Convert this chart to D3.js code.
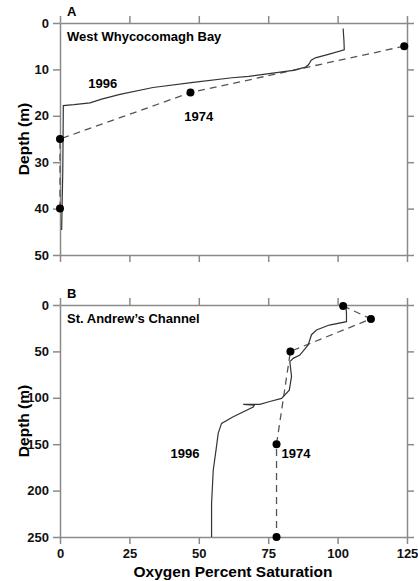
<!DOCTYPE html>
<html>
<head>
<meta charset="utf-8">
<script src="https://cdn.jsdelivr.net/npm/d3@7"></script>
<style>
  body { margin: 0; background: #fff; }
  text { font-family: "Liberation Sans", Arial, Helvetica, sans-serif; font-weight: bold; }
</style>
</head>
<body>
<div id="chart"></div>
<script>
// Data - panel A (West Whycocomagh Bay)
var oxyA1996 = [102, 102.3, 102.4, 97, 92, 90.5, 89.5, 88.5, 84, 78, 68, 62, 48, 33.5, 21.6, 15, 10.8, 5, 1.2, 1.1, 1.0, 0.8, 0.6];
var depthA1996 = [1.2, 4, 5.8, 6.7, 7.5, 8, 9, 9.5, 10.2, 10.7, 11.5, 11.8, 12.8, 13.9, 15.4, 16.4, 17.2, 17.6, 17.8, 25, 32, 38, 44.6];
var oxyA1974 = [124, 47, 0, 0];
var depthA1974 = [5, 15, 25, 40];

// Data - panel B (St. Andrew's Channel)
var oxyB1996 = [103, 103.2, 103.2, 97, 92.4, 90.6, 89.4, 86.4, 84, 82.8, 83.4, 82.6, 79.8, 75.6, 72, 66, 70, 69.6, 62.4, 58.2, 57, 56.2, 55.2, 54.6, 54.6];
var depthB1996 = [0, 10, 18, 21.6, 27, 32, 43, 54, 57.5, 61, 77, 91.7, 100.6, 104, 107, 107, 108, 110, 120.5, 127.6, 138, 156.4, 178, 214, 250];
var oxyB1974 = [102, 112, 83, 78, 78];
var depthB1974 = [1, 15, 50, 150, 250];

// Tick values
var oxyTicks = [0, 25, 50, 75, 100, 125];
var depthTicksA = [0, 10, 20, 30, 40, 50];
var depthTicksB = [0, 50, 100, 150, 200, 250];

var width = 418;
var height = 581;

var svg = d3.select("#chart")
  .append("svg")
  .attr("width", width)
  .attr("height", height);

// shared x scale
var x = d3.scaleLinear().domain([0, 125]).range([60, 407]);

var tickLen = 7;
var axisColor = "#8a8a8a";

function drawPanel(opt) {
  var y = d3.scaleLinear().domain(opt.yDomain).range(opt.yRange);
  var g = svg.append("g");

  // box axes with outward ticks on all four sides
  var left = g.append("g")
    .attr("transform", "translate(" + x(0) + ",0)")
    .call(d3.axisLeft(y).tickValues(opt.yTicks).tickSize(tickLen).tickSizeOuter(0).tickPadding(4));
  g.append("g")
    .attr("transform", "translate(" + x(125) + ",0)")
    .call(d3.axisRight(y).tickValues(opt.yTicks).tickSize(tickLen).tickSizeOuter(0).tickFormat(""));
  g.append("g")
    .attr("transform", "translate(0," + opt.yRange[0] + ")")
    .call(d3.axisTop(x).tickValues(oxyTicks).tickSize(tickLen).tickSizeOuter(0).tickFormat(""));
  var bottom = g.append("g")
    .attr("transform", "translate(0," + opt.yRange[1] + ")")
    .call(d3.axisBottom(x).tickValues(oxyTicks).tickSize(tickLen).tickSizeOuter(0).tickPadding(5));
  if (!opt.xLabels) bottom.selectAll(".tick text").remove();

  g.selectAll(".domain, .tick line")
    .attr("stroke", axisColor)
    .attr("stroke-width", 1.5);
  g.selectAll(".tick text")
    .attr("fill", "#111")
    .style("font-size", "13px")
    .style("font-weight", "bold");

  var line = d3.line()
    .x(function (d) { return x(d[0]); })
    .y(function (d) { return y(d[1]); });

  var solid = d3.zip(opt.oxy96, opt.depth96);
  var dashed = d3.zip(opt.oxy74, opt.depth74);

  // 1974 survey, dashed with dots
  g.append("path")
    .datum(dashed)
    .attr("d", line)
    .attr("fill", "none")
    .attr("stroke", "#555")
    .attr("stroke-width", 1.3)
    .attr("stroke-dasharray", "7,5");

  // 1996 profile
  g.append("path")
    .datum(solid)
    .attr("d", line)
    .attr("fill", "none")
    .attr("stroke", "#333")
    .attr("stroke-width", 1.2);

  g.selectAll("circle")
    .data(dashed)
    .enter()
    .append("circle")
    .attr("cx", function (d) { return x(d[0]); })
    .attr("cy", function (d) { return y(d[1]); })
    .attr("r", 4)
    .attr("fill", "#000");

  // panel letter and station name
  g.append("text")
    .attr("x", 67)
    .attr("y", opt.yRange[0] - 7)
    .style("font-size", "13px")
    .text(opt.letter);
  g.append("text")
    .attr("x", 67)
    .attr("y", opt.yRange[0] + 18)
    .style("font-size", "13px")
    .text(opt.name);

  // year labels
  g.append("text")
    .attr("x", x(opt.lab96[0]))
    .attr("y", y(opt.lab96[1]))
    .attr("text-anchor", "middle")
    .style("font-size", "13px")
    .text("1996");
  g.append("text")
    .attr("x", x(opt.lab74[0]))
    .attr("y", y(opt.lab74[1]))
    .attr("text-anchor", "middle")
    .style("font-size", "13px")
    .text("1974");

  // y axis title
  g.append("text")
    .attr("transform", "translate(29," + ((opt.yRange[0] + opt.yRange[1]) / 2) + ")rotate(-90)")
    .attr("text-anchor", "middle")
    .style("font-size", "15.5px")
    .text("Depth (m)");
}

drawPanel({
  letter: "A",
  name: "West Whycocomagh Bay",
  yDomain: [0, 50],
  yRange: [23, 255],
  yTicks: depthTicksA,
  xLabels: false,
  oxy96: oxyA1996, depth96: depthA1996,
  oxy74: oxyA1974, depth74: depthA1974,
  lab96: [15.4, 14], lab74: [50, 21.1]
});

drawPanel({
  letter: "B",
  name: "St. Andrew\u2019s Channel",
  yDomain: [0, 250],
  yRange: [305, 537],
  yTicks: depthTicksB,
  xLabels: true,
  oxy96: oxyB1996, depth96: depthB1996,
  oxy74: oxyB1974, depth74: depthB1974,
  lab96: [45, 165], lab74: [85, 165]
});

// x axis title
svg.append("text")
  .attr("x", 233)
  .attr("y", 577)
  .attr("text-anchor", "middle")
  .style("font-size", "15.5px")
  .text("Oxygen Percent Saturation");
</script>
</body>
</html>
